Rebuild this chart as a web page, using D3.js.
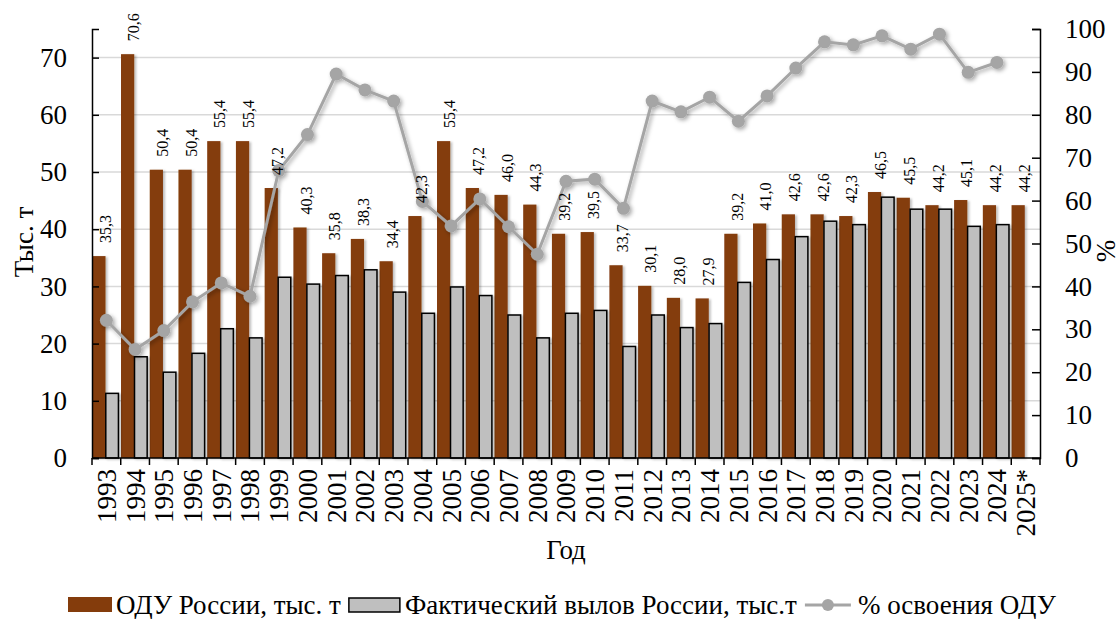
<!DOCTYPE html>
<html>
<head>
<meta charset="utf-8">
<script src="https://cdn.jsdelivr.net/npm/d3@7"></script>
<style>
  html, body { margin: 0; padding: 0; background: #fff; }
  svg { display: block; font-family: "Liberation Serif", "Times New Roman", serif; }
  svg text { font-family: "Liberation Serif", "Times New Roman", serif; }
</style>
</head>
<body>
<svg id="chart" width="1120" height="619"></svg>
<script>
// years on the x axis
var years = ['1993','1994','1995','1996','1997','1998','1999','2000','2001','2002','2003',
  '2004','2005','2006','2007','2008','2009','2010','2011','2012','2013','2014','2015',
  '2016','2017','2018','2019','2020','2021','2022','2023','2024','2025*'];
// ОДУ России, тыс. т
var odu = [35.3, 70.6, 50.4, 50.4, 55.4, 55.4, 47.2, 40.3, 35.8, 38.3, 34.4,
  42.3, 55.4, 47.2, 46.0, 44.3, 39.2, 39.5, 33.7, 30.1, 28.0, 27.9, 39.2,
  41.0, 42.6, 42.6, 42.3, 46.5, 45.5, 44.2, 45.1, 44.2, 44.2];
// Фактический вылов России, тыс.т
var catchFact = [11.3, 17.7, 15.0, 18.3, 22.6, 21.0, 31.6, 30.4, 31.9, 32.9, 29.0,
  25.3, 29.9, 28.4, 25.0, 21.0, 25.3, 25.8, 19.5, 25.0, 22.8, 23.5, 30.7,
  34.7, 38.7, 41.4, 40.8, 45.6, 43.5, 43.5, 40.5, 40.8, null];
// % освоения ОДУ
var pct = [32.1, 25.3, 29.7, 36.4, 40.8, 37.7, 67.0, 75.4, 89.5, 85.8, 83.2,
  59.8, 54.1, 60.4, 53.9, 47.5, 64.5, 65.0, 58.2, 83.2, 80.7, 84.1, 78.5,
  84.4, 90.9, 97.0, 96.3, 98.4, 95.3, 98.8, 89.9, 92.2, null];
var leftTicks = [0, 10, 20, 30, 40, 50, 60, 70];
var rightTicks = [0, 10, 20, 30, 40, 50, 60, 70, 80, 90, 100];

var cfg = { left: 92, right: 1040, top: 29, bottom: 458 };
var colors = { odu: '#843c0c', fact: '#bfbfbf', line: '#a5a5a5', grid: '#d9d9d9' };

var svg = d3.select('#chart');
var defs = svg.append('defs');
var sh = defs.append('filter').attr('id', 'shadow').attr('x', '-50%').attr('y', '-50%').attr('width', '200%').attr('height', '200%');
sh.append('feDropShadow').attr('dx', 2).attr('dy', 2).attr('stdDeviation', 2).attr('flood-color', '#000').attr('flood-opacity', 0.35);
var shb = defs.append('filter').attr('id', 'barshadow').attr('x', '-20%').attr('y', '-5%').attr('width', '150%').attr('height', '110%');
shb.append('feDropShadow').attr('dx', 2).attr('dy', 1).attr('stdDeviation', 1.2).attr('flood-color', '#000').attr('flood-opacity', 0.25);

var x = d3.scaleBand().domain(years).range([cfg.left, cfg.right]).padding(0);
var bw = x.bandwidth();
var yL = d3.scaleLinear().domain([0, 75]).range([cfg.bottom, cfg.top]);
var yR = d3.scaleLinear().domain([0, 100]).range([cfg.bottom, cfg.top]);

// gridlines
svg.append('g').selectAll('line').data(leftTicks.filter(function(d){ return d > 0; }))
  .enter().append('line')
  .attr('x1', cfg.left).attr('x2', cfg.right)
  .attr('y1', function(d){ return yL(d); }).attr('y2', function(d){ return yL(d); })
  .attr('stroke', colors.grid).attr('stroke-width', 1.5);

// bars
var gb = svg.append('g');
gb.selectAll('rect.odu').data(years).enter().append('rect').attr('class', 'odu')
  .attr('x', function(d){ return x(d) + bw * 0.01; })
  .attr('width', bw * 0.46)
  .attr('y', function(d, i){ return yL(odu[i]); })
  .attr('height', function(d, i){ return cfg.bottom - yL(odu[i]); })
  .attr('fill', colors.odu)
  .attr('filter', 'url(#barshadow)');
gb.selectAll('rect.fact').data(years.filter(function(d, i){ return catchFact[i] != null; }))
  .enter().append('rect').attr('class', 'fact')
  .attr('x', function(d){ return x(d) + bw * 0.48; })
  .attr('width', bw * 0.44)
  .attr('y', function(d){ return yL(catchFact[years.indexOf(d)]); })
  .attr('height', function(d){ return cfg.bottom - yL(catchFact[years.indexOf(d)]); })
  .attr('fill', colors.fact).attr('stroke', '#000').attr('stroke-width', 1.5)
  .attr('filter', 'url(#barshadow)');

// line: % освоения
var pts = years.map(function(d, i){ return { year: d, v: pct[i] }; }).filter(function(d){ return d.v != null; });
var gl = svg.append('g').attr('filter', 'url(#shadow)');
gl.append('path').datum(pts)
  .attr('d', d3.line().x(function(d){ return x(d.year) + bw / 2; }).y(function(d){ return yR(d.v); }))
  .attr('fill', 'none').attr('stroke', colors.line).attr('stroke-width', 3);
gl.selectAll('circle').data(pts).enter().append('circle')
  .attr('cx', function(d){ return x(d.year) + bw / 2; })
  .attr('cy', function(d){ return yR(d.v); })
  .attr('r', 6.5).attr('fill', colors.line);

// data labels for ODU (on top of the line)
svg.append('g').selectAll('text').data(years).enter().append('text')
  .attr('transform', function(d, i){
    return 'translate(' + (x(d) + bw * 0.24 + 6) + ',' + (yL(odu[i]) - 13) + ') rotate(-90)';
  })
  .attr('dy', '0.35em')
  .attr('font-size', 16)
  .attr('fill', '#000')
  .text(function(d, i){ return odu[i].toFixed(1).replace('.', ','); });

// axes
var axL = svg.append('g').attr('transform', 'translate(' + cfg.left + ',0)')
  .call(d3.axisLeft(yL).tickValues(leftTicks).tickSize(-7).tickPadding(25));
var axR = svg.append('g').attr('transform', 'translate(' + cfg.right + ',0)')
  .call(d3.axisRight(yR).tickValues(rightTicks).tickSize(-8).tickPadding(25));
var edges = years.map(function(d){ return x(d); }).concat([cfg.right]);
var axB = svg.append('g');
axB.append('line').attr('x1', cfg.left).attr('x2', cfg.right).attr('y1', cfg.bottom).attr('y2', cfg.bottom)
  .attr('stroke', '#000').attr('stroke-width', 1.5);
axB.selectAll('line.tick').data(edges).enter().append('line').attr('class', 'tick')
  .attr('x1', function(d){ return d; }).attr('x2', function(d){ return d; })
  .attr('y1', cfg.bottom).attr('y2', cfg.bottom + 7)
  .attr('stroke', '#000').attr('stroke-width', 1.5);
axB.selectAll('text').data(years).enter().append('text')
  .attr('transform', function(d){ return 'translate(' + (x(d) + bw / 2) + ',' + (cfg.bottom + 11) + ') rotate(-90)'; })
  .attr('dy', '0.35em').attr('text-anchor', 'end').attr('font-size', 27)
  .text(function(d){ return d; });

[axL, axR].forEach(function(ax){
  ax.attr('font-family', null);
  ax.select('.domain').attr('stroke', '#000').attr('stroke-width', 1.5);
  ax.selectAll('.tick line').attr('stroke', '#000').attr('stroke-width', 1.5);
  ax.selectAll('.tick text').attr('font-size', 27).attr('fill', '#000');
});

// axis titles
svg.append('text').attr('transform', 'translate(24,242) rotate(-90)')
  .attr('text-anchor', 'middle').attr('dy', '0.35em').attr('font-size', 27).text('Тыс. т');
svg.append('text').attr('transform', 'translate(1106,251) rotate(-90)')
  .attr('text-anchor', 'middle').attr('dy', '0.35em').attr('font-size', 27).text('%');
svg.append('text').attr('x', 566).attr('y', 559)
  .attr('text-anchor', 'middle').attr('font-size', 27).text('Год');

// legend
var lg = svg.append('g');
var lx = 68, ly = 605;
lg.append('rect').attr('x', lx).attr('y', ly - 8).attr('width', 44).attr('height', 15).attr('fill', colors.odu);
var t1 = lg.append('text').attr('x', lx + 48).attr('y', ly).attr('dy', '0.35em').attr('font-size', 27).text('ОДУ России, тыс. т');
lx = lx + 48 + t1.node().getComputedTextLength() + 8;
lg.append('rect').attr('x', lx).attr('y', ly - 7).attr('width', 51).attr('height', 14)
  .attr('fill', colors.fact).attr('stroke', '#000').attr('stroke-width', 1.5);
var t2 = lg.append('text').attr('x', lx + 56).attr('y', ly).attr('dy', '0.35em').attr('font-size', 27).text('Фактический вылов России, тыс.т');
lx = lx + 56 + t2.node().getComputedTextLength() + 8;
lg.append('line').attr('x1', lx).attr('x2', lx + 46).attr('y1', ly).attr('y2', ly)
  .attr('stroke', colors.line).attr('stroke-width', 3);
lg.append('circle').attr('cx', lx + 23).attr('cy', ly).attr('r', 6).attr('fill', colors.line);
lg.append('text').attr('x', lx + 53).attr('y', ly).attr('dy', '0.35em').attr('font-size', 27).text('% освоения ОДУ');
</script>
</body>
</html>
